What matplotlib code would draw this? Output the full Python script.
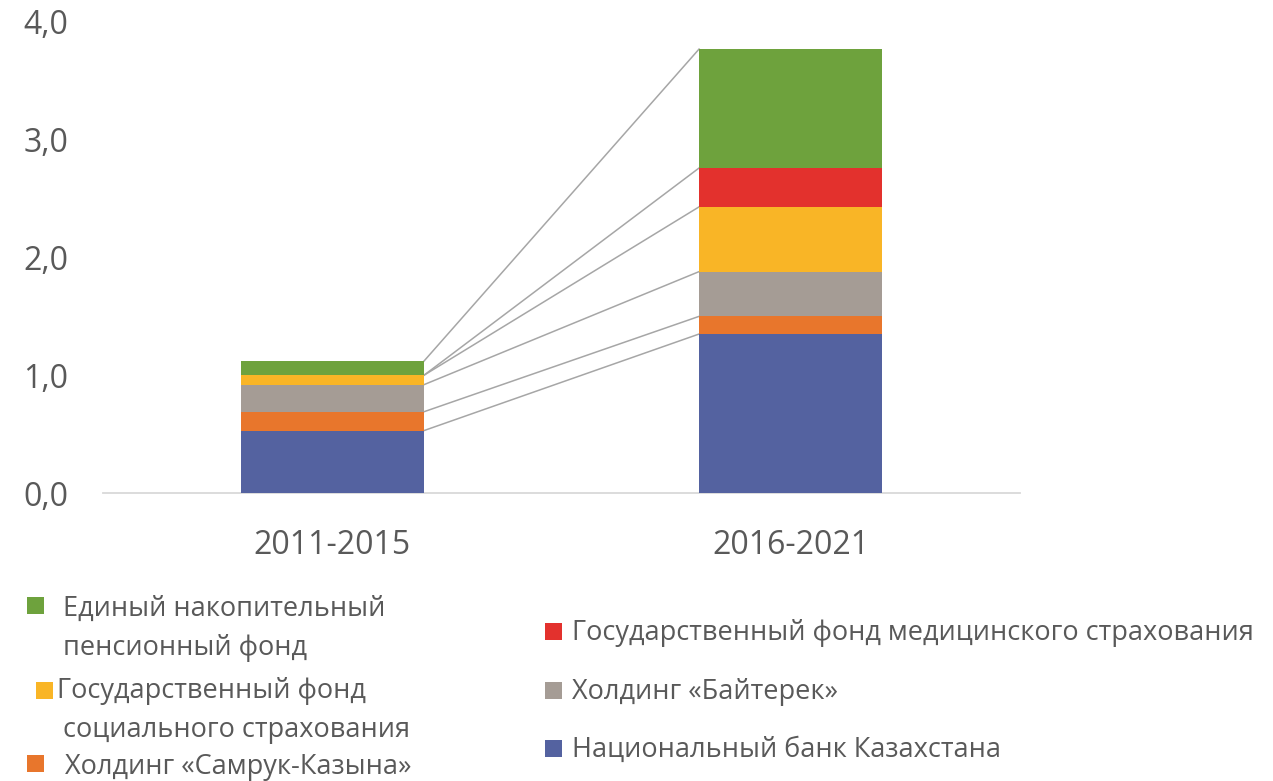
#!/usr/bin/env python3
"""Stacked bars of state asset holders, 2011-2015 vs 2016-2021."""
import numpy as np
import matplotlib
matplotlib.use('Agg')
import matplotlib.pyplot as plt
from matplotlib.patches import Rectangle

periods = ['2011-2015', '2016-2021']

# bottom to top
nat_bank = [0.53, 1.35]
samruk = [0.16, 0.15]
baiterek = [0.23, 0.38]
gfss = [0.08, 0.55]
fms = [0.0, 0.33]
enpf = [0.12, 1.01]

series = [nat_bank, samruk, baiterek, gfss, fms, enpf]
colors = ['#5462A0', '#E8762C', '#A59C95', '#F9B526', '#E3312D', '#6EA23D']
yticks = [0.0, 1.0, 2.0, 3.0, 4.0]

TXT = '#595959'
W, H = 1273, 781

plt.rcParams['font.family'] = ['Open Sans', 'DejaVu Sans']

fig = plt.figure(figsize=(W / 100, H / 100), dpi=100)
ax = fig.add_axes([103 / W, (H - 493) / H, (1020 - 103) / W, (493 - 22) / H])

x = np.arange(len(periods))
bw = 0.4
bottom = np.zeros(len(periods))
tops = []
for vals, c in zip(series, colors):
    vals = np.array(vals)
    ax.bar(x, vals, bw, bottom=bottom, color=c, linewidth=0, zorder=3)
    bottom = bottom + vals
    tops.append(bottom.copy())

# connector lines between the stacks
for t in tops:
    ax.plot([x[0] + bw / 2, x[1] - bw / 2], [t[0], t[1]],
            color='#A6A6A6', lw=1.1, zorder=2)

ax.set_xlim(-0.5, 1.5)
ax.set_ylim(0, 4)
ax.set_yticks(yticks)
ax.set_yticklabels([f'{v:.1f}'.replace('.', ',') for v in yticks])
ax.set_xticks(x)
ax.set_xticklabels(periods)
ax.tick_params(axis='both', length=0, labelsize=23, colors=TXT)
ax.tick_params(axis='y', pad=25)
ax.tick_params(axis='x', pad=26)
for s in ['top', 'right', 'left']:
    ax.spines[s].set_visible(False)
ax.spines['bottom'].set_color('#D9D9D9')
ax.spines['bottom'].set_linewidth(1.3)


def fx(px):
    return px / W


def fy(py):
    return (H - py) / H


def marker(x0, y0, c, size=17):
    fig.add_artist(Rectangle((fx(x0), fy(y0 + size)), size / W, size / H,
                             transform=fig.transFigure, color=c, lw=0))


def label(x0, base, s):
    fig.text(fx(x0), fy(base), s, fontsize=19.5, color=TXT,
             ha='left', va='baseline')


# legend, left column
marker(27, 597, colors[5])
label(63, 616, 'Единый накопительный')
label(63, 655, 'пенсионный фонд')
marker(36, 682, colors[3])
label(57, 698, 'Государственный фонд')
label(63, 737, 'социального страхования')
marker(27, 755, colors[1])
label(65, 774, 'Холдинг «Самрук-Казына»')

# legend, right column
marker(545, 623, colors[4])
label(572, 640, 'Государственный фонд медицинского страхования')
marker(545, 682, colors[2])
label(572, 699, 'Холдинг «Байтерек»')
marker(545, 740, colors[0])
label(572, 757, 'Национальный банк Казахстана')

fig.savefig('out.png', dpi=100)
